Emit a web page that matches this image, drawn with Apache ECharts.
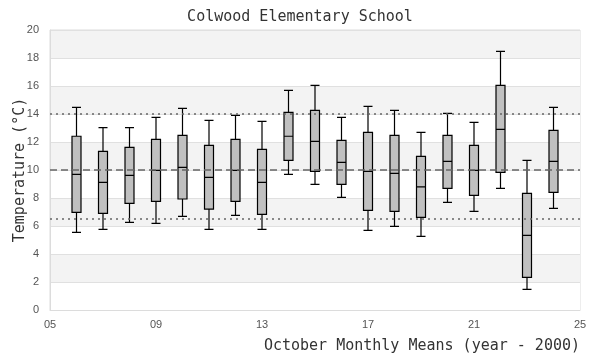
<!DOCTYPE html>
<html><head><meta charset="utf-8">
<script src="https://cdn.jsdelivr.net/npm/echarts@6/dist/echarts.min.js"></script>
<style>html,body{margin:0;padding:0;background:#fff}#c{width:600px;height:360px}</style>
</head><body><div id="c"></div>
<script>
const years   = [6, 7, 8, 9, 10, 11, 12, 13, 14, 15, 16, 17, 18, 19, 20, 21, 22, 23, 24];
const mins    = [5.55, 5.76, 6.26, 6.19, 6.69, 5.76, 6.76, 5.76, 9.69, 8.98, 8.05, 5.69, 5.98, 5.26, 7.69, 7.05, 8.69, 1.48, 7.26];
const q1s     = [6.98, 6.90, 7.62, 7.76, 7.93, 7.21, 7.76, 6.83, 10.69, 9.90, 8.98, 7.12, 7.05, 6.62, 8.69, 8.19, 9.83, 2.33, 8.40];
const medians = [9.69, 9.12, 9.62, 9.98, 10.19, 9.48, 9.98, 9.12, 12.41, 12.05, 10.55, 9.90, 9.76, 8.79, 10.62, 9.98, 12.90, 5.33, 10.62];
const q3s     = [12.41, 11.33, 11.62, 12.19, 12.48, 11.76, 12.19, 11.48, 14.12, 14.26, 12.12, 12.69, 12.48, 10.98, 12.48, 11.76, 16.05, 8.33, 12.83];
const maxs    = [14.48, 13.02, 13.02, 13.76, 14.40, 13.55, 13.90, 13.48, 15.69, 16.05, 13.76, 14.55, 14.26, 12.69, 14.05, 13.40, 18.48, 10.69, 14.48];
const meanLine = 10.0;
const upperLine = 14.05;
const lowerLine = 6.55;
const titleText = 'Colwood Elementary School';
const yName = 'Temperature (°C)';
const xName = 'October Monthly Means (year - 2000)';

const boxData = years.map((y, i) => [y, mins[i], q1s[i], medians[i], q3s[i], maxs[i]]);
const mono = '"DejaVu Sans Mono", monospace';

const chart = echarts.init(document.getElementById('c'), null, {renderer: 'canvas'});
chart.setOption({
  animation: false,
  title: {text: titleText, left: 'center', top: 5,
    textStyle: {fontFamily: mono, fontSize: 15, fontWeight: 'normal', color: '#333'}},
  grid: {left: 50, right: 20, top: 30, bottom: 50, show: true, borderColor: '#dcdcdc', borderWidth: 1,
    backgroundColor: 'transparent', containLabel: false, outerBoundsMode: 'none'},
  xAxis: {
    type: 'value', min: 5, max: 25, interval: 4,
    name: xName, nameLocation: 'end', nameGap: 0, nameMoveOverlap: false,
    nameTextStyle: {fontFamily: mono, fontSize: 15, color: '#333', align: 'right', verticalAlign: 'top', padding: [29, 0, 0, 0]},
    axisLine: {show: true, lineStyle: {color: '#dcdcdc'}},
    axisTick: {show: false},
    splitLine: {show: false},
    axisLabel: {color: '#555', fontSize: 11, margin: 9, formatter: v => (v < 10 ? '0' : '') + v}
  },
  yAxis: {
    type: 'value', min: 0, max: 20, interval: 2,
    name: yName, nameLocation: 'middle', nameGap: 22, nameMoveOverlap: false,
    nameTextStyle: {fontFamily: mono, fontSize: 15, color: '#333'},
    axisLine: {show: true, lineStyle: {color: '#dcdcdc'}},
    axisTick: {show: false},
    axisLabel: {color: '#555', fontSize: 11, margin: 11},
    splitLine: {show: true, lineStyle: {color: '#e0e0e0'}},
    splitArea: {show: true, areaStyle: {color: ['#ffffff', '#f3f3f3']}}
  },
  series: [{
    type: 'boxplot',
    data: boxData,
    boxWidth: [9, 9],
    itemStyle: {color: '#c0c0c0', borderColor: '#000', borderWidth: 1.2},
    markLine: {
      silent: true, symbol: 'none', label: {show: false},
      data: [
        {yAxis: meanLine, lineStyle: {type: [7, 4], color: '#666', width: 1.5}},
        {yAxis: upperLine, lineStyle: {type: [2, 4], color: '#666', width: 1.5}},
        {yAxis: lowerLine, lineStyle: {type: [2, 4], color: '#666', width: 1.5}}
      ]
    }
  }]
});
</script></body></html>
